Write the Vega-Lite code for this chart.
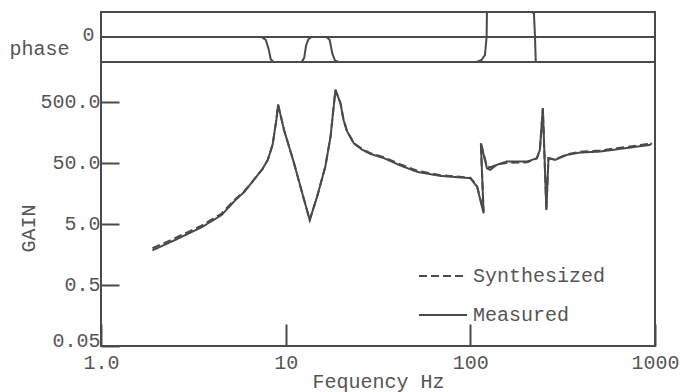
{
  "$schema": "https://vega.github.io/schema/vega-lite/v6.json",
  "padding": {"left": 8, "top": 7, "right": 5, "bottom": 0},
  "background": "white",
  "config": {
    "view": {"stroke": "#4a4a4a", "strokeWidth": 2},
    "font": "Liberation Mono",
    "axis": {"labelFont": "Liberation Mono", "titleFont": "Liberation Mono", "labelColor": "#555", "titleColor": "#555", "labelFontSize": 20, "titleFontSize": 20, "titleFontWeight": "normal", "tickColor": "#4a4a4a", "tickWidth": 2, "grid": false, "domain": false, "labelFlush": false},
    "legend": {"labelFont": "Liberation Mono", "labelFontSize": 20, "labelColor": "#555"}
  },
  "datasets": {
    "phase": [
      {"freq": 1.9, "phase": 0, "series": "Measured"},
      {"freq": 7.4, "phase": 0, "series": "Measured"},
      {"freq": 7.8, "phase": -20, "series": "Measured"},
      {"freq": 8.1, "phase": -90, "series": "Measured"},
      {"freq": 8.3, "phase": -160, "series": "Measured"},
      {"freq": 8.6, "phase": -180, "series": "Measured"},
      {"freq": 12.2, "phase": -180, "series": "Measured"},
      {"freq": 12.6, "phase": -150, "series": "Measured"},
      {"freq": 12.9, "phase": -60, "series": "Measured"},
      {"freq": 13.3, "phase": -15, "series": "Measured"},
      {"freq": 13.8, "phase": 0, "series": "Measured"},
      {"freq": 16.6, "phase": 0, "series": "Measured"},
      {"freq": 17.3, "phase": -20, "series": "Measured"},
      {"freq": 17.9, "phase": -120, "series": "Measured"},
      {"freq": 18.5, "phase": -170, "series": "Measured"},
      {"freq": 19.5, "phase": -180, "series": "Measured"},
      {"freq": 108, "phase": -180, "series": "Measured"},
      {"freq": 115, "phase": -165, "series": "Measured"},
      {"freq": 120, "phase": -130, "series": "Measured"},
      {"freq": 122.5, "phase": 0, "series": "Measured"},
      {"freq": 123, "phase": 170, "series": "Measured"},
      {"freq": 124, "phase": 180, "series": "Measured"},
      {"freq": 215, "phase": 180, "series": "Measured"},
      {"freq": 221, "phase": 170, "series": "Measured"},
      {"freq": 224, "phase": 0, "series": "Measured"},
      {"freq": 226, "phase": -170, "series": "Measured"},
      {"freq": 228, "phase": -180, "series": "Measured"},
      {"freq": 1000, "phase": -180, "series": "Measured"}
    ],
    "gain": [
      {"freq": 1.9, "gain": 1.85, "series": "Measured"},
      {"freq": 2.5, "gain": 2.7, "series": "Measured"},
      {"freq": 3.5, "gain": 4.4, "series": "Measured"},
      {"freq": 4.5, "gain": 7.0, "series": "Measured"},
      {"freq": 5.3, "gain": 12, "series": "Measured"},
      {"freq": 6.0, "gain": 17, "series": "Measured"},
      {"freq": 6.7, "gain": 26, "series": "Measured"},
      {"freq": 7.5, "gain": 40, "series": "Measured"},
      {"freq": 8.0, "gain": 56, "series": "Measured"},
      {"freq": 8.5, "gain": 100, "series": "Measured"},
      {"freq": 8.9, "gain": 250, "series": "Measured"},
      {"freq": 9.1, "gain": 450, "series": "Measured"},
      {"freq": 9.8, "gain": 173, "series": "Measured"},
      {"freq": 11.1, "gain": 49.5, "series": "Measured"},
      {"freq": 12.3, "gain": 15.9, "series": "Measured"},
      {"freq": 13.5, "gain": 5.8, "series": "Measured"},
      {"freq": 14.8, "gain": 14, "series": "Measured"},
      {"freq": 16.4, "gain": 43.6, "series": "Measured"},
      {"freq": 17.5, "gain": 135, "series": "Measured"},
      {"freq": 18.6, "gain": 787, "series": "Measured"},
      {"freq": 19.8, "gain": 476, "series": "Measured"},
      {"freq": 20.6, "gain": 250, "series": "Measured"},
      {"freq": 21.5, "gain": 165, "series": "Measured"},
      {"freq": 23.4, "gain": 105, "series": "Measured"},
      {"freq": 26, "gain": 82, "series": "Measured"},
      {"freq": 28.8, "gain": 70, "series": "Measured"},
      {"freq": 34, "gain": 60, "series": "Measured"},
      {"freq": 42, "gain": 45, "series": "Measured"},
      {"freq": 51.7, "gain": 35.6, "series": "Measured"},
      {"freq": 68.8, "gain": 30.6, "series": "Measured"},
      {"freq": 100, "gain": 28.1, "series": "Measured"},
      {"freq": 108.7, "gain": 20.4, "series": "Measured"},
      {"freq": 118, "gain": 7.5, "series": "Measured"},
      {"freq": 114, "gain": 105, "series": "Measured"},
      {"freq": 123, "gain": 40.9, "series": "Measured"},
      {"freq": 128, "gain": 38.4, "series": "Measured"},
      {"freq": 139, "gain": 46.4, "series": "Measured"},
      {"freq": 157, "gain": 52.5, "series": "Measured"},
      {"freq": 203, "gain": 52.5, "series": "Measured"},
      {"freq": 229, "gain": 59.7, "series": "Measured"},
      {"freq": 238, "gain": 81.6, "series": "Measured"},
      {"freq": 247, "gain": 394, "series": "Measured"},
      {"freq": 258, "gain": 8.5, "series": "Measured"},
      {"freq": 265, "gain": 59.7, "series": "Measured"},
      {"freq": 288, "gain": 56, "series": "Measured"},
      {"freq": 333, "gain": 67.6, "series": "Measured"},
      {"freq": 393, "gain": 73.8, "series": "Measured"},
      {"freq": 504, "gain": 76.7, "series": "Measured"},
      {"freq": 940, "gain": 98.6, "series": "Measured"},
      {"freq": 959, "gain": 105, "series": "Measured"},
      {"freq": 1.9, "gain": 2.0, "series": "Synthesized"},
      {"freq": 2.5, "gain": 2.9, "series": "Synthesized"},
      {"freq": 3.5, "gain": 4.7, "series": "Synthesized"},
      {"freq": 4.5, "gain": 7.4, "series": "Synthesized"},
      {"freq": 5.3, "gain": 12.5, "series": "Synthesized"},
      {"freq": 6.0, "gain": 17.5, "series": "Synthesized"},
      {"freq": 6.7, "gain": 26, "series": "Synthesized"},
      {"freq": 7.5, "gain": 40, "series": "Synthesized"},
      {"freq": 8.0, "gain": 56, "series": "Synthesized"},
      {"freq": 8.5, "gain": 100, "series": "Synthesized"},
      {"freq": 8.9, "gain": 250, "series": "Synthesized"},
      {"freq": 9.1, "gain": 450, "series": "Synthesized"},
      {"freq": 9.8, "gain": 173, "series": "Synthesized"},
      {"freq": 11.1, "gain": 49.5, "series": "Synthesized"},
      {"freq": 12.3, "gain": 15.9, "series": "Synthesized"},
      {"freq": 13.5, "gain": 5.8, "series": "Synthesized"},
      {"freq": 14.8, "gain": 14, "series": "Synthesized"},
      {"freq": 16.4, "gain": 43.6, "series": "Synthesized"},
      {"freq": 17.5, "gain": 135, "series": "Synthesized"},
      {"freq": 18.6, "gain": 787, "series": "Synthesized"},
      {"freq": 19.8, "gain": 476, "series": "Synthesized"},
      {"freq": 20.6, "gain": 250, "series": "Synthesized"},
      {"freq": 21.5, "gain": 165, "series": "Synthesized"},
      {"freq": 23.4, "gain": 105, "series": "Synthesized"},
      {"freq": 26, "gain": 84, "series": "Synthesized"},
      {"freq": 28.8, "gain": 72, "series": "Synthesized"},
      {"freq": 34, "gain": 62, "series": "Synthesized"},
      {"freq": 42, "gain": 47, "series": "Synthesized"},
      {"freq": 51.7, "gain": 37, "series": "Synthesized"},
      {"freq": 68.8, "gain": 31.5, "series": "Synthesized"},
      {"freq": 100, "gain": 28.5, "series": "Synthesized"},
      {"freq": 108.7, "gain": 21, "series": "Synthesized"},
      {"freq": 118, "gain": 8, "series": "Synthesized"},
      {"freq": 114, "gain": 105, "series": "Synthesized"},
      {"freq": 123, "gain": 44, "series": "Synthesized"},
      {"freq": 128, "gain": 42, "series": "Synthesized"},
      {"freq": 139, "gain": 47, "series": "Synthesized"},
      {"freq": 157, "gain": 50, "series": "Synthesized"},
      {"freq": 203, "gain": 51, "series": "Synthesized"},
      {"freq": 229, "gain": 59, "series": "Synthesized"},
      {"freq": 238, "gain": 81.6, "series": "Synthesized"},
      {"freq": 247, "gain": 394, "series": "Synthesized"},
      {"freq": 258, "gain": 8.5, "series": "Synthesized"},
      {"freq": 265, "gain": 59.7, "series": "Synthesized"},
      {"freq": 288, "gain": 57, "series": "Synthesized"},
      {"freq": 333, "gain": 69, "series": "Synthesized"},
      {"freq": 393, "gain": 76, "series": "Synthesized"},
      {"freq": 504, "gain": 80, "series": "Synthesized"},
      {"freq": 940, "gain": 103, "series": "Synthesized"},
      {"freq": 959, "gain": 108, "series": "Synthesized"}
    ]
  },
  "spacing": 0,
  "bounds": "flush",
  "resolve": {"legend": {"strokeDash": "independent"}},
  "vconcat": [
    {
      "width": 554,
      "height": 50,
      "data": {"name": "phase"},
      "layer": [
        {
          "mark": {"type": "rule", "color": "#4a4a4a", "strokeWidth": 2},
          "encoding": {"y": {"datum": 0, "type": "quantitative", "scale": {"domain": [-180, 180]}}}
        },
        {
          "mark": {"type": "line", "color": "#4a4a4a", "strokeWidth": 2},
          "encoding": {
            "x": {"field": "freq", "type": "quantitative", "scale": {"type": "log", "domain": [1, 1000]}, "axis": null},
            "y": {"field": "phase", "type": "quantitative", "scale": {"domain": [-180, 180]},
              "axis": {"values": [0], "ticks": false, "labelPadding": 7, "labelOffset": -3, "title": "phase", "titleAngle": 0, "titleAlign": "left", "titleBaseline": "middle", "titleX": -92, "titleY": 36}},
            "strokeDash": {"field": "series", "type": "nominal", "scale": {"domain": ["Synthesized", "Measured"], "range": [[8, 4], [1, 0]]}, "legend": null},
            "order": {"value": null}
          }
        }
      ]
    },
    {
      "width": 554,
      "height": 284,
      "data": {"name": "gain"},
      "mark": {"type": "line", "color": "#4a4a4a", "strokeWidth": 2},
      "encoding": {
        "x": {"field": "freq", "type": "quantitative", "scale": {"type": "log", "domain": [1, 1000]},
          "axis": {"values": [1, 10, 100, 1000], "labelExpr": "datum.value == 1 ? '1.0' : format(datum.value, 'd')", "tickSize": -22, "labelPadding": 28, "title": "Fequency Hz", "titleY": 35, "titleBaseline": "middle"}},
        "y": {"field": "gain", "type": "quantitative", "scale": {"type": "log", "domain": [0.05, 2250]},
          "axis": {"values": [0.05, 0.5, 5, 50, 500], "labelExpr": "datum.value == 0.05 ? '0.05' : format(datum.value, '.1f')", "labelBaseline": {"condition": {"test": "datum.value == 0.05", "value": "alphabetic"}, "value": "middle"}, "tickSize": -18, "labelPadding": 19, "title": "GAIN", "titleX": -73, "titleY": 166, "titleBaseline": "middle"}},
        "strokeDash": {"field": "series", "type": "nominal", "scale": {"domain": ["Synthesized", "Measured"], "range": [[8, 4], [1, 0]]},
          "legend": {"orient": "none", "legendX": 317, "legendY": 189, "title": null, "symbolType": "stroke", "symbolSize": 2304, "symbolStrokeWidth": 2, "symbolStrokeColor": "#4a4a4a", "rowPadding": 4, "labelOffset": 5, "padding": 0}},
        "order": {"value": null}
      }
    }
  ]
}
